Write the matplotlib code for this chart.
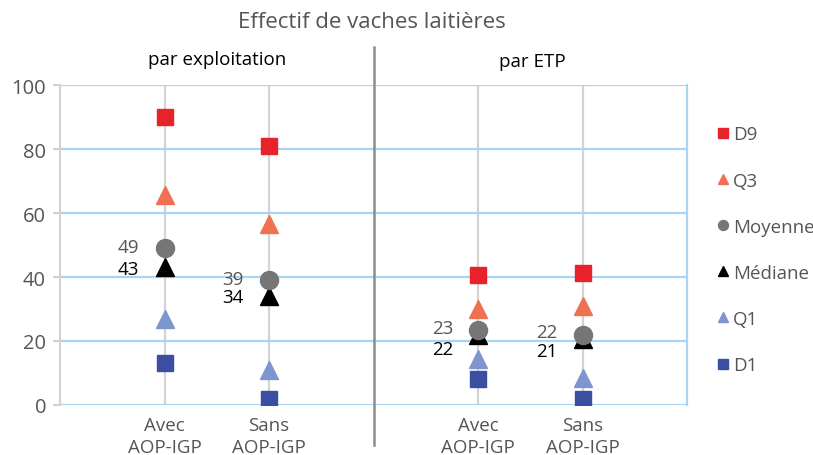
import matplotlib; matplotlib.use('Agg')
import matplotlib.pyplot as plt
import numpy as np

plt.rcParams['font.family'] = ['Open Sans', 'DejaVu Sans']

# positions 1,2 = par exploitation ; 4,5 = par ETP
xpos = [1, 2, 4, 5]
xlabels = ['Avec\nAOP-IGP', 'Sans\nAOP-IGP', 'Avec\nAOP-IGP', 'Sans\nAOP-IGP']

d9 = [90, 81, 40.7, 41.2]
q3 = [65.5, 56.5, 30, 31]
moyenne = [49, 39, 23.3, 21.8]
mediane = [43, 34, 22, 20.5]
q1 = [27, 11, 14.3, 8.5]
d1 = [13, 2, 8, 1.8]

lab_moy = ['49', '39', '23', '22']
lab_med = ['43', '34', '22', '21']

fig = plt.figure(figsize=(8.13, 4.56), dpi=100)
ax = fig.add_axes([60/813, 1-406/456, 627/813, 320/456])

ax.set_xlim(0, 6)
ax.set_ylim(0, 100)

gridblue = '#a9d5f2'
for y in range(0, 101, 20):
    ax.axhline(y, color=gridblue, lw=1.6, zorder=1)
for x in xpos:
    ax.axvline(x, color='#d3d3d3', lw=1.6, zorder=0)

for s in ['top', 'bottom']:
    ax.spines[s].set_visible(False)
ax.spines['left'].set_color('#d3d3d3')
ax.spines['left'].set_linewidth(1.6)
ax.spines['right'].set_color(gridblue)
ax.spines['right'].set_linewidth(1.6)

ax.plot([3, 3], [-12.5, 112], color='#8c8c8c', lw=1.8, clip_on=False, zorder=2)

ms = 12
ax.plot(xpos, d9, 's', color='#e8222b', ms=ms, ls='none', label='D9', zorder=3)
ax.plot(xpos, q3, '^', color='#f07152', ms=ms+1, ls='none', label='Q3', zorder=3)
ax.plot(xpos, mediane, '^', color='black', ms=ms+1, ls='none', label='Médiane', zorder=3)
ax.plot(xpos, moyenne, 'o', color='#767676', ms=ms+1, ls='none', label='Moyenne', zorder=4)
ax.plot(xpos, q1, '^', color='#7f95d0', ms=ms+1, ls='none', label='Q1', zorder=3)
ax.plot(xpos, d1, 's', color='#3a4ea2', ms=ms, ls='none', label='D1', zorder=3)

# label offsets (in data units) so the two numbers don't collide
dy_moy = [0.3, 0.3, 0.7, 1.0]
dy_med = [-0.6, -0.3, -4.6, -3.6]
for x, ym, yd, lm, ld, om, od in zip(xpos, moyenne, mediane, lab_moy, lab_med, dy_moy, dy_med):
    ax.text(x - 0.24, ym + om, lm, ha='right', va='center', fontsize=13.5, color='#555555')
    ax.text(x - 0.24, yd + od, ld, ha='right', va='center', fontsize=13.5, color='black')

ax.set_yticks(range(0, 101, 20))
ax.set_xticks(xpos)
ax.set_xticklabels(xlabels, fontsize=13.5, color='#555555', linespacing=1.25)
ax.tick_params(axis='y', labelsize=14.5, colors='#555555', length=5, width=1.2, color='#c8c8c8', pad=5)
ax.tick_params(axis='x', length=0, pad=8)

fig.text(372/813, 1-22/456, 'Effectif de vaches laitières', ha='center', va='center',
         fontsize=16, color='#555555')
fig.text(217/813, 1-60/456, 'par exploitation', ha='center', va='center', fontsize=13.5, color='black')
fig.text(532/813, 1-62/456, 'par ETP', ha='center', va='center', fontsize=13.5, color='black')

h, l = ax.get_legend_handles_labels()
order = ['D9', 'Q3', 'Moyenne', 'Médiane', 'Q1', 'D1']
hd = dict(zip(l, h))
leg = fig.legend([hd[k] for k in order], order, loc='upper left',
                 bbox_to_anchor=(708/813, 1-119/456), frameon=False, fontsize=13.5,
                 markerscale=0.55, handlelength=0.8, handletextpad=0.15,
                 labelspacing=1.5, labelcolor='#555555', borderaxespad=0)

fig.savefig('out.png', dpi=100)
